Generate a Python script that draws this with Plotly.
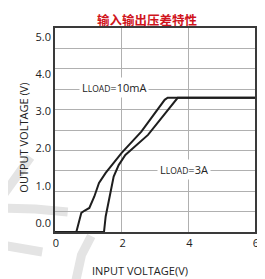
import plotly.graph_objects as go

# Data
vin_10ma = [0.64, 0.79, 0.88, 1.03, 1.18, 1.32, 1.52, 1.71, 2.00, 2.59, 3.29, 3.38, 6.0]
vout_10ma = [0.0, 0.47, 0.52, 0.59, 0.87, 1.20, 1.45, 1.64, 1.94, 2.46, 3.24, 3.29, 3.29]
vin_3a = [0.0, 1.47, 1.52, 1.62, 1.70, 1.76, 1.91, 2.11, 2.79, 3.68, 6.0]
vout_3a = [0.0, 0.0, 0.38, 0.78, 1.11, 1.36, 1.64, 1.89, 2.38, 3.29, 3.29]
x_ticks = [0, 2, 4, 6]
y_ticks = [0, 1, 2, 3, 4, 5]
y_tick_text = ["0.0", "1.0", "2.0", "3.0", "4.0", "5.0"]
title_text = "输入输出压差特性"

# page body has an 8px margin; the figure is sized to fit the 265x279 window
OFF = 8
PAGE_W, PAGE_H = 265, 279
W, H = PAGE_W - OFF, PAGE_H - OFF
L, R, T, B = 55 - OFF, 6, 28 - OFF, 47
pw, ph = W - L - R, H - T - B

def px(x):  # page pixel -> paper
    return (x - OFF - L) / pw

def py(y):
    return (H - B - (y - OFF)) / ph

fig = go.Figure()
line_style = dict(color="#1e1e1e", width=2)
fig.add_trace(go.Scatter(x=vin_10ma, y=vout_10ma, mode="lines", line=line_style,
                         showlegend=False, hoverinfo="skip"))
fig.add_trace(go.Scatter(x=vin_3a, y=vout_3a, mode="lines", line=line_style,
                         showlegend=False, hoverinfo="skip"))
# dummy trace to carry the labelled y axis
fig.add_trace(go.Scatter(x=[None], y=[None], yaxis="y2", showlegend=False))

font_family = "Open Sans, Noto Sans, sans-serif"
tick_font = dict(family=font_family, size=11, color="#222222")

# watermark strokes (decorative)
wm = "#e4e4e4"
shapes = []
def wm_path(pts, width=9):
    d = "M " + " L ".join(f"{px(a):.4f},{py(b):.4f}" for a, b in pts)
    shapes.append(dict(type="path", path=d, xref="paper", yref="paper",
                       line=dict(color=wm, width=width), layer="below"))
wm_path([(0, 198), (30, 157)])
wm_path([(0, 208), (35, 209), (68, 212)])
wm_path([(0, 245), (42, 252)])
wm_path([(76, 282), (82, 255), (92, 236)])

fig.update_layout(
    width=W, height=H,
    margin=dict(l=L, r=R, t=T, b=B),
    paper_bgcolor="white",
    plot_bgcolor="rgba(0,0,0,0)",
    shapes=shapes,
    xaxis=dict(range=[0, 6], tickvals=x_ticks, ticktext=[str(v) for v in x_ticks],
               showgrid=True, gridcolor="#b0b0b0", gridwidth=1,
               tickmode="array", ticks="", ticklabelshift=1,
               showline=True, linecolor="#3a3a3a", linewidth=2, mirror=True,
               zeroline=False, tickfont=tick_font),
    yaxis=dict(range=[0, 5], dtick=0.5, showticklabels=False, ticks="",
               showgrid=True, gridcolor="#b0b0b0", gridwidth=1,
               showline=True, linecolor="#3a3a3a", linewidth=2, mirror=True,
               zeroline=False),
    yaxis2=dict(range=[-0.242, 5.242], overlaying="y", side="left",
                tickmode="array", tickvals=y_ticks, ticktext=y_tick_text,
                showgrid=False, zeroline=False, ticks="", showline=False,
                ticklabelstandoff=3, tickfont=tick_font),
    annotations=[
        dict(x=px(149), y=py(OFF + 0.5), xref="paper", yref="paper",
             xanchor="center", yanchor="top", showarrow=False,
             text="<b>" + title_text + "</b>",
             font=dict(family="Noto Sans CJK SC", size=12.5, color="#d0141c")),
        dict(x=0.72, y=3.55, xref="x", yref="y", xanchor="left", yanchor="middle",
             text="L<span style='font-size:8.5px'>LOAD</span>=10mA", showarrow=False,
             bgcolor="white", borderpad=2,
             font=dict(family=font_family, size=11, color="#222222")),
        dict(x=3.05, y=1.52, xref="x", yref="y", xanchor="left", yanchor="middle",
             text="L<span style='font-size:8.5px'>LOAD</span>=3A", showarrow=False,
             bgcolor="white", borderpad=2,
             font=dict(family=font_family, size=11, color="#222222")),
        dict(x=px(22), y=py(138), xref="paper", yref="paper", textangle=-90,
             xanchor="center", yanchor="middle", showarrow=False,
             text="OUTPUT VOLTAGE (V)",
             font=dict(family=font_family, size=11, color="#222222")),
        dict(x=px(142), y=py(270), xref="paper", yref="paper",
             xanchor="center", yanchor="middle", showarrow=False,
             text="INPUT VOLTAGE(V)",
             font=dict(family=font_family, size=11, color="#222222")),
    ],
)

fig.write_html("out.html")
